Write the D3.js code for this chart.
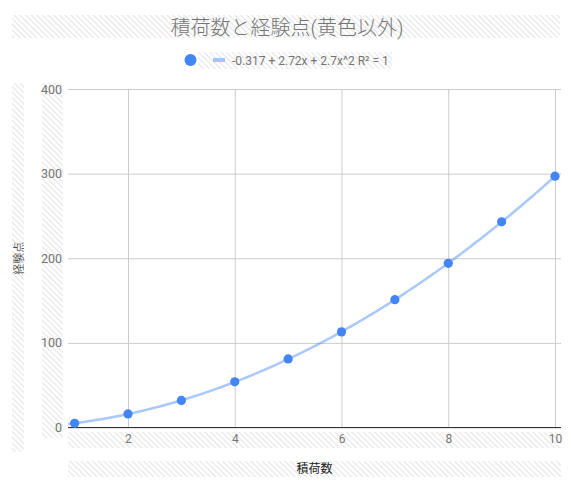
<!DOCTYPE html>
<html>
<head>
<meta charset="utf-8">
<script src="https://cdn.jsdelivr.net/npm/d3@7"></script>
<style>
  html, body { margin: 0; padding: 0; background: #fff; }
  svg { display: block; font-family: Roboto, "Noto Sans CJK JP", sans-serif; }
</style>
</head>
<body>
<svg id="chart" width="571" height="482"></svg>
<script>
// ---- data ----
const xValues = [1, 2, 3, 4, 5, 6, 7, 8, 9, 10];
const yValues = [5, 16, 32, 54, 81, 113, 151, 194, 243, 297];
const xTicks = [2, 4, 6, 8, 10];
const yTicks = [0, 100, 200, 300, 400];
const xDomain = [0.876, 10.112];
const yDomain = [0, 400];
const trendCoefficients = [-0.317, 2.72, 2.7];
const titleText = "積荷数と経験点(黄色以外)";
const legendText = "-0.317 + 2.72x + 2.7x^2 R² = 1";
const xAxisTitle = "積荷数";
const yAxisTitle = "経験点";

// ---- layout ----
const svg = d3.select("#chart");
const plot = { left: 68, right: 561, top: 89, bottom: 427.5 };
const x = d3.scaleLinear().domain(xDomain).range([plot.left, plot.right]);
const y = d3.scaleLinear().domain(yDomain).range([plot.bottom, plot.top]);

const pointColor = "#4285f4";
const textGray = "#757575";

// hatch pattern
const defs = svg.append("defs");
const pat = defs.append("pattern")
  .attr("id", "hatch").attr("patternUnits", "userSpaceOnUse")
  .attr("width", 4).attr("height", 4)
  .attr("patternTransform", "rotate(45)");
pat.append("rect").attr("width", 4).attr("height", 4).attr("fill", "#fff");
pat.append("rect").attr("x", 0).attr("y", 0).attr("width", 4).attr("height", 1.2).attr("fill", "#e6e6e6");

const hatchRects = [
  [12, 15, 548, 23],   // title
  [198, 52, 194, 17],  // legend
  [12, 83, 12, 369],   // y title
  [42, 83, 21, 355],   // y ticks
  [68, 432, 493, 16],  // x ticks
  [68, 461, 493, 16]   // x title
];
svg.append("g").selectAll("rect").data(hatchRects).join("rect")
  .attr("x", d => d[0]).attr("y", d => d[1])
  .attr("width", d => d[2]).attr("height", d => d[3])
  .attr("fill", "url(#hatch)");

// gridlines
const gy = svg.append("g").attr("transform", `translate(${plot.left},0)`)
  .call(d3.axisLeft(y).tickValues(yTicks).tickSize(-(plot.right - plot.left)).tickFormat(""));
gy.select(".domain").remove();
gy.selectAll("line").attr("stroke", "#cccccc");

const gx = svg.append("g").attr("transform", `translate(0,${plot.bottom})`)
  .call(d3.axisBottom(x).tickValues(xTicks).tickSize(-(plot.bottom - plot.top)).tickFormat(""));
gx.select(".domain").remove();
gx.selectAll("line").attr("stroke", "#cccccc");

// baseline
svg.append("line")
  .attr("x1", plot.left).attr("x2", plot.right)
  .attr("y1", y(0)).attr("y2", y(0))
  .attr("stroke", "#333").attr("stroke-width", 1);

// tick labels
const yLab = svg.append("g").attr("transform", `translate(62,0)`)
  .call(d3.axisLeft(y).tickValues(yTicks).tickSize(0).tickPadding(0));
yLab.select(".domain").remove();
yLab.selectAll("text").attr("fill", textGray).style("font-size", "12.5px")
  .style("font-family", "Roboto, sans-serif");

const xLab = svg.append("g").attr("transform", `translate(0,434)`)
  .call(d3.axisBottom(x).tickValues(xTicks).tickSize(0).tickPadding(0));
xLab.select(".domain").remove();
xLab.selectAll("text").attr("fill", textGray).style("font-size", "12px")
  .style("font-family", "Roboto, sans-serif");

// trendline
const poly = t => trendCoefficients.reduce((s, c, i) => s + c * Math.pow(t, i), 0);
const samples = d3.range(xDomain[0], xValues[xValues.length - 1] + 0.0001, 0.05);
svg.append("path")
  .datum(samples)
  .attr("d", d3.line().x(t => x(t)).y(t => y(poly(t))))
  .attr("fill", "none")
  .attr("stroke", pointColor).attr("stroke-opacity", 0.45)
  .attr("stroke-width", 2.5);

// points
svg.append("g").selectAll("circle").data(xValues).join("circle")
  .attr("cx", (d) => x(d)).attr("cy", (d, i) => y(yValues[i]))
  .attr("r", 4.6).attr("fill", pointColor);

// title
svg.append("text").attr("x", 287).attr("y", 35)
  .attr("text-anchor", "middle").attr("fill", textGray)
  .style("font-size", "20px").style("font-weight", 300).text(titleText);

// legend
svg.append("circle").attr("cx", 190.5).attr("cy", 60).attr("r", 6).attr("fill", pointColor);
svg.append("line").attr("x1", 213).attr("x2", 225).attr("y1", 60).attr("y2", 60)
  .attr("stroke", pointColor).attr("stroke-opacity", 0.45).attr("stroke-width", 4);
svg.append("text").attr("x", 232).attr("y", 64.5)
  .attr("fill", textGray).style("font-size", "12px").text(legendText);

// axis titles
svg.append("text").attr("x", (plot.left + plot.right) / 2).attr("y", 473)
  .attr("text-anchor", "middle").attr("fill", "#222")
  .style("font-size", "12px").text(xAxisTitle);
svg.append("text")
  .attr("transform", `translate(23,${(plot.top + plot.bottom) / 2}) rotate(-90)`)
  .attr("text-anchor", "middle").attr("fill", "#222")
  .style("font-size", "11px").style("font-weight", 300).text(yAxisTitle);
</script>
</body>
</html>
